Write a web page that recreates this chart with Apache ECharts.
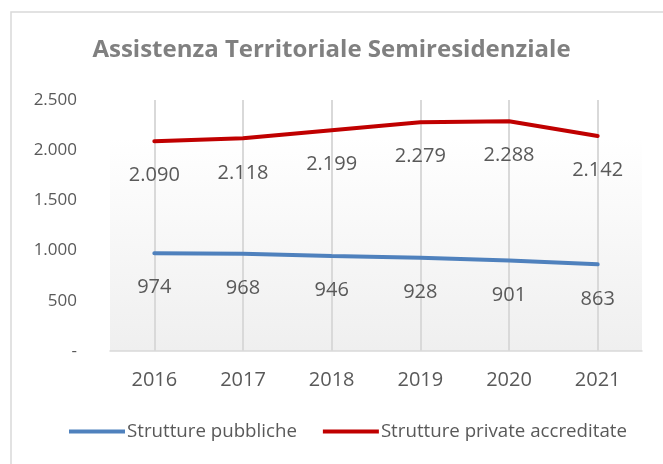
<!DOCTYPE html>
<html>
<head>
<meta charset="utf-8">
<script src="https://cdn.jsdelivr.net/npm/echarts@6/dist/echarts.min.js"></script>
<style>
  html, body { margin: 0; padding: 0; background: #fff; }
  #chart { width: 663px; height: 464px; }
</style>
</head>
<body>
<div id="chart"></div>
<script type="text/javascript">
var years = ['2016', '2017', '2018', '2019', '2020', '2021'];
var pubbliche = [974, 968, 946, 928, 901, 863];
var private_accr = [2090, 2118, 2199, 2279, 2288, 2142];

var font = 'Open Sans';
var grey = '#595959';

function fmt(v) {
	if (v == 0) return '-';
	return String(v).replace(/\B(?=(\d{3})+(?!\d))/g, '.');
}

var chart = echarts.init(document.getElementById('chart'));

function lineSeries(name, data, col) {
	return {
		name: name,
		type: 'line',
		data: data,
		symbol: 'circle',
		symbolSize: 1,
		showSymbol: true,
		itemStyle: { color: col },
		lineStyle: { width: 4, color: col, cap: 'round' },
		label: {
			show: true, position: 'bottom', distance: 24,
			fontFamily: font, fontSize: 20, color: grey,
			formatter: function (p) { return fmt(p.value); }
		},
		z: 3
	};
}

var option = {
	backgroundColor: '#fff',
	animation: false,
	title: {
		text: 'Assistenza Territoriale Semiresidenziale',
		left: 'center',
		top: 33,
		textStyle: { fontFamily: font, fontSize: 24, fontWeight: 'bold', color: '#808080' }
	},
	graphic: [{
		type: 'rect',
		shape: { x: 11, y: 12, width: 700, height: 500 },
		style: { fill: null, stroke: '#d9d9d9', lineWidth: 1.5 },
		silent: true
	}],
	legend: {
		bottom: 18,
		left: 64,
		itemWidth: 56,
		itemHeight: 4,
		itemGap: 26,
		icon: 'rect',
		textStyle: { fontFamily: font, fontSize: 18.7, color: grey, padding: [0, 0, 0, -3] },
		data: ['Strutture pubbliche', 'Strutture private accreditate']
	},
	grid: {
		left: 110, right: 21, top: 100, bottom: 113,
		show: true,
		borderWidth: 0,
		backgroundColor: {
			type: 'linear', x: 0, y: 0, x2: 0, y2: 1,
			colorStops: [{ offset: 0, color: '#ffffff' }, { offset: 0.15, color: '#ffffff' }, { offset: 1, color: '#efefef' }]
		}
	},
	xAxis: {
		type: 'category',
		data: years,
		boundaryGap: true,
		axisLine: { lineStyle: { color: '#d9d9d9', width: 1.5 } },
		axisTick: { show: false, alignWithLabel: true },
		axisLabel: { fontFamily: font, fontSize: 20, color: grey, margin: 19 },
		// vertical gridlines sit on the years, not between them
		splitLine: { show: true, alignWithLabel: true, lineStyle: { color: '#d9d9d9', width: 2 } }
	},
	yAxis: {
		type: 'value',
		min: 0,
		max: 2500,
		interval: 500,
		axisLine: { show: false },
		axisTick: { show: false },
		splitLine: { show: false },
		axisLabel: {
			fontFamily: font, fontSize: 17, color: grey, margin: 33,
			formatter: function (v) { return fmt(v); }
		}
	},
	series: [
		lineSeries('Strutture pubbliche', pubbliche, '#4f81bd'),
		lineSeries('Strutture private accreditate', private_accr, '#c00000')
	]
};
chart.setOption(option);
</script>
</body>
</html>
